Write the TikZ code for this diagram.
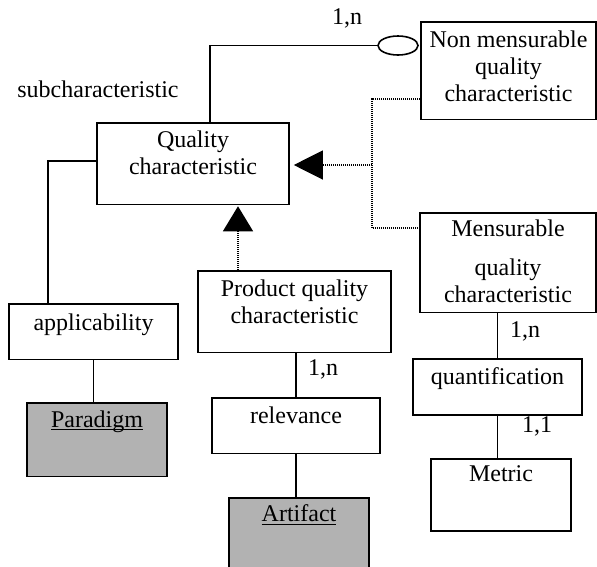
\documentclass[tikz,border=0pt]{standalone}
\usepackage{fontspec}
\setmainfont{Liberation Serif}
\usetikzlibrary{arrows.meta,shapes.geometric}
\definecolor{entgray}{gray}{0.7}
\newsavebox\entbox
\newcommand{\entname}[1]{\sbox\entbox{#1}\rlap{\rule[-3pt]{\wd\entbox}{1.1pt}}\usebox\entbox}
\begin{document}
\begin{tikzpicture}[x=1pt,y=-1pt,line join=miter,
	every node/.style={font=\fontsize{24}{27}\selectfont},
	ent/.style={draw,line width=1.6pt,align=center,anchor=north,inner xsep=1pt,minimum width=#1},
	conn/.style={line width=1.6pt},
	isa/.style={line width=1.2pt,dash pattern=on 1pt off 1pt},
	card/.style={anchor=base,inner sep=0pt}]
	\useasboundingbox (0,0) rectangle (597,566);
	% entities and relationships
	\node[ent=192pt,inner ysep=8pt,text depth=22pt] (qc) at (193,122) {Quality\\characteristic};
	\node[ent=175pt,inner ysep=9pt,text depth=9pt] (nmqc) at (508.5,21) {Non mensurable\\quality\\characteristic};
	\node[ent=176pt,inner ysep=7pt,text depth=3pt] (mqc) at (508,212) {Mensurable\\[12pt]quality\\characteristic};
	\node[ent=193pt,inner ysep=9pt,text depth=20pt] (pqc) at (294.5,270) {Product quality\\characteristic};
	\node[ent=169pt,inner ysep=10pt,text depth=19pt] (applic) at (93.5,303) {applicability};
	\node[ent=140pt,inner ysep=8pt,text depth=41pt,fill=entgray] (paradigm) at (97,402) {\entname{Paradigm}};
	\node[ent=168pt,inner ysep=9pt,text depth=21pt] (relev) at (296,397) {relevance};
	\node[ent=140pt,inner ysep=7pt,text depth=43pt,fill=entgray] (artifact) at (299,497) {\entname{Artifact}};
	\node[ent=169pt,inner ysep=9pt,text depth=21pt] (quant) at (497.5,358) {quantification};
	\node[ent=140pt,inner ysep=7pt,text depth=42pt] (metric) at (501,458) {Metric};
	\node[draw,ellipse,line width=1.6pt,minimum width=40pt,minimum height=19pt,inner sep=0pt] (ell) at (398,45.5) {};
	% labels
	\node[card] (sublbl) at (98,97) {subcharacteristic};
	\foreach \px/\py/\t/\n in {347/24/{1,n}/a,323/375/{1,n}/b,525/337/{1,n}/c,537/432/{1,1}/d}
		\node[card] (card\n) at (\px,\py) {\t};
	% connectors
	\draw[conn] ([xshift=17pt]qc.north) |- (ell.west);
	\draw[conn] ([xshift=-45.5pt]applic.north) |- ([yshift=2.5pt]qc.west);
	\draw[conn] (applic.south) -- (applic.south |- paradigm.north);
	\draw[conn] (relev.north) -- (relev.north |- pqc.south);
	\draw[conn] (relev.south) -- (relev.south |- artifact.north);
	\draw[conn] (quant.north) -- (quant.north |- mqc.south);
	\draw[conn] (quant.south) -- (quant.south |- metric.north);
	% generalisation
	\coordinate (fork) at (372,165);
	\draw[isa] (nmqc.west |- 0,99) -| (fork) |- (mqc.west |- 0,228);
	\draw[isa,-{Triangle[length=29pt,width=29pt]},shorten >=4pt] (fork) -- (qc.east |- fork);
	\draw[isa,-{Triangle[length=25pt,width=30pt]},shorten >=1pt] (pqc.north -| 238,0) -- (qc.south -| 238,0);
\end{tikzpicture}
\end{document}
